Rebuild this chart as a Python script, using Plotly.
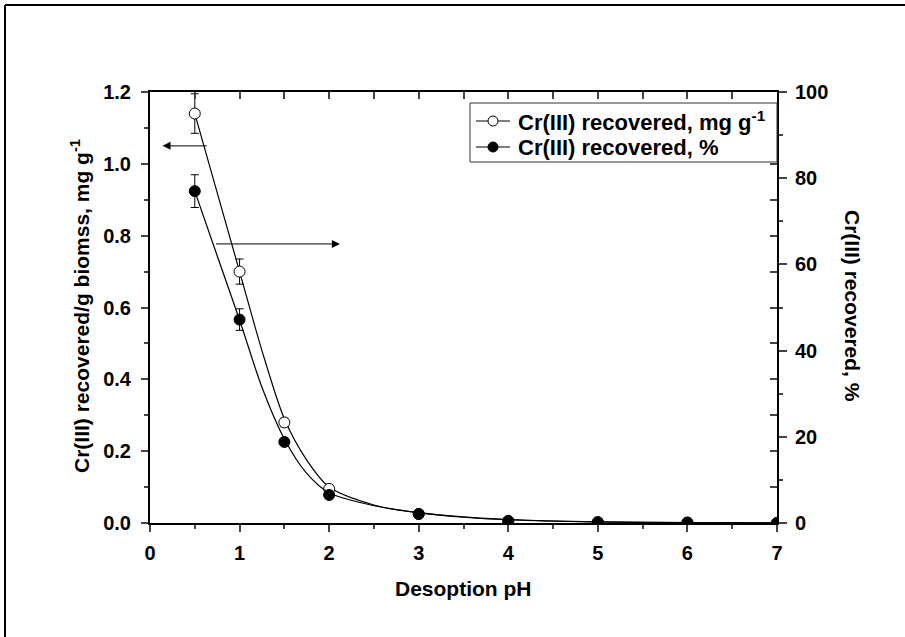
import plotly.graph_objects as go

# Measured desorption data
ph = [0.5, 1.0, 1.5, 2.0, 3.0, 4.0, 5.0, 6.0, 7.0]
recovered_mg = [1.14, 0.70, 0.28, 0.095, 0.025, 0.005, 0.002, 0.001, 0.0]
recovered_mg_err = [0.055, 0.035, 0.012, 0.006, 0.0, 0.0, 0.0, 0.0, 0.0]
recovered_pct = [77.0, 47.2, 18.8, 6.5, 2.1, 0.5, 0.2, 0.1, 0.0]
recovered_pct_err = [3.8, 2.5, 0.8, 0.4, 0.0, 0.0, 0.0, 0.0, 0.0]

# Fitted decay curves
fit_ph = [0.5, 0.75, 1.0, 1.25, 1.5, 1.75, 2.0, 2.5, 3.0, 3.5, 4.0, 5.0, 6.0, 7.0]
fit_mg = [1.14, 0.92, 0.70, 0.48, 0.29, 0.175, 0.10, 0.05, 0.028, 0.016, 0.009, 0.003, 0.001, 0.0003]
fit_pct = [77.0, 62.0, 47.1, 31.5, 19.5, 11.5, 7.0, 4.0, 2.4, 1.4, 0.8, 0.25, 0.08, 0.02]

x_ticks = list(range(0, 8))
left_ticks = [0.0, 0.2, 0.4, 0.6, 0.8, 1.0, 1.2]
right_ticks = [0, 20, 40, 60, 80, 100]

legend_labels = ["Cr(III) recovered, mg g<sup>-1</sup>", "Cr(III) recovered, %"]
legend_fills = ["white", "black"]

FONT = "Liberation Sans"
W, H = 905, 637
ML, MR, MT, MB = 150, 128, 92, 114
PW, PH = W - ML - MR, H - MT - MB


def px_x(px):
    return (px - ML) / PW


def px_y(py):
    return (MT + PH - py) / PH


fig = go.Figure()

# fitted curves
fig.add_trace(go.Scatter(x=fit_ph, y=fit_mg, mode="lines",
                         line=dict(color="black", width=1.2, shape="spline", smoothing=0.8),
                         showlegend=False, hoverinfo="skip"))
fig.add_trace(go.Scatter(x=fit_ph, y=fit_pct, yaxis="y2", mode="lines",
                         line=dict(color="black", width=1.2, shape="spline", smoothing=0.8),
                         showlegend=False, hoverinfo="skip"))

# measured points
fig.add_trace(go.Scatter(x=ph, y=recovered_mg, mode="markers", name=legend_labels[0],
                         marker=dict(symbol="circle", size=11, color="white", line=dict(color="black", width=1)),
                         error_y=dict(type="data", array=recovered_mg_err, color="black", thickness=1, width=4),
                         showlegend=False))
fig.add_trace(go.Scatter(x=ph, y=recovered_pct, yaxis="y2", mode="markers", name=legend_labels[1],
                         marker=dict(symbol="circle", size=11, color="black", line=dict(color="black", width=1)),
                         error_y=dict(type="data", array=recovered_pct_err, color="black", thickness=1, width=4),
                         showlegend=False))

# dummy trace so the inward mirror ticks get drawn
fig.add_trace(go.Scatter(x=[None], y=[None], xaxis="x2", yaxis="y3", showlegend=False, hoverinfo="skip"))

tickfont = dict(family=FONT, size=20, color="black", weight="bold")

fig.update_layout(
    width=W, height=H,
    margin=dict(l=ML, r=MR, t=MT, b=MB),
    paper_bgcolor="white", plot_bgcolor="white",
    font=dict(family=FONT, color="black"),
    showlegend=False,
    xaxis=dict(range=[0, 7], tickvals=x_ticks, ticks="outside", ticklen=7, tickwidth=1.5,
               minor=dict(dtick=0.5, ticks="outside", ticklen=4, tickwidth=1.5),
               showline=True, linewidth=2, linecolor="black", showgrid=False, zeroline=False,
               tickfont=tickfont, ticklabelstandoff=4),
    xaxis2=dict(range=[0, 7], overlaying="x", side="top", anchor="y", dtick=0.5, ticks="inside",
                ticklen=7, tickwidth=1.5, showticklabels=False, showline=True, linewidth=2,
                linecolor="black", showgrid=False, zeroline=False),
    yaxis=dict(range=[0, 1.2], tickvals=left_ticks, tickformat=".1f", ticks="outside", ticklen=7, tickwidth=1.5,
               minor=dict(dtick=0.1, ticks="outside", ticklen=4, tickwidth=1.5),
               showline=True, linewidth=2, linecolor="black", showgrid=False, zeroline=False,
               tickfont=tickfont, ticklabelstandoff=6),
    yaxis2=dict(range=[0, 100], overlaying="y", side="right", anchor="x", tickvals=right_ticks,
                ticks="outside", ticklen=8, tickwidth=1.5,
                minor=dict(dtick=10, ticks="outside", ticklen=4, tickwidth=1.5),
                showline=True, linewidth=2, linecolor="black", showgrid=False, zeroline=False,
                tickfont=tickfont, ticklabelstandoff=4),
    yaxis3=dict(range=[0, 1.2], overlaying="y", side="right", anchor="x", dtick=0.1, ticks="inside",
                ticklen=7, tickwidth=1.5, showticklabels=False, showline=False, showgrid=False, zeroline=False),
)

# axis titles
fig.add_annotation(text="<b>Desoption pH</b>", xref="paper", yref="paper",
                   x=px_x(463), y=px_y(588), xanchor="center", yanchor="middle", showarrow=False,
                   font=dict(family=FONT, size=21, color="black"))
fig.add_annotation(text="<b>Cr(III) recovered/g biomss, mg g<sup>-1</sup></b>", xref="paper", yref="paper",
                   x=px_x(80), y=px_y(306), xanchor="center", yanchor="middle", textangle=-90, showarrow=False,
                   font=dict(family=FONT, size=21, color="black"))
fig.add_annotation(text="<b>Cr(III) recovered, %</b>", xref="paper", yref="paper",
                   x=px_x(853), y=px_y(306), xanchor="center", yanchor="middle", textangle=90, showarrow=False,
                   font=dict(family=FONT, size=21, color="black"))

# arrows pointing to each series' axis
fig.add_annotation(x=0.14, y=1.05, ax=0.65, ay=1.05, xref="x", yref="y", axref="x", ayref="y",
                   text="", showarrow=True, arrowhead=2, arrowsize=1.6, arrowwidth=1, arrowcolor="black")
fig.add_annotation(x=2.12, y=0.777, ax=0.72, ay=0.777, xref="x", yref="y", axref="x", ayref="y",
                   text="", showarrow=True, arrowhead=2, arrowsize=1.6, arrowwidth=1, arrowcolor="black")

# legend box
fig.add_shape(type="rect", xref="paper", yref="paper", x0=px_x(470), x1=px_x(777), y0=px_y(103), y1=px_y(162),
              line=dict(color="#333333", width=1), fillcolor="white", layer="above")
row_y = [121, 147]
for label, fill, ry in zip(legend_labels, legend_fills, row_y):
    fig.add_shape(type="line", xref="paper", yref="paper", x0=px_x(476), x1=px_x(510),
                  y0=px_y(ry), y1=px_y(ry), line=dict(color="black", width=1), layer="above")
    fig.add_shape(type="circle", xref="paper", yref="paper", x0=px_x(488), x1=px_x(498),
                  y0=px_y(ry - 5), y1=px_y(ry + 5), line=dict(color="black", width=1),
                  fillcolor=fill, layer="above")
    fig.add_annotation(text="<b>" + label + "</b>", xref="paper", yref="paper",
                       x=px_x(516), y=px_y(ry), xanchor="left", yanchor="middle", showarrow=False,
                       font=dict(family=FONT, size=22, color="black"))

# outer frame lines
fx0 = px_x(5)
fy0 = px_y(5)
fig.add_shape(type="line", xref="paper", yref="paper", x0=fx0, x1=px_x(W + 5), y0=fy0, y1=fy0,
              line=dict(color="black", width=2))
fig.add_shape(type="line", xref="paper", yref="paper", x0=fx0, x1=fx0, y0=fy0, y1=px_y(H + 5),
              line=dict(color="black", width=2))

fig.write_html("out.html")
